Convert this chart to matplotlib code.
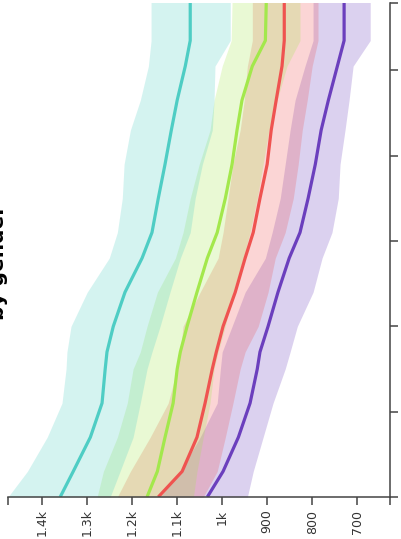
import matplotlib
matplotlib.use('Agg')
import matplotlib.pyplot as plt

# time positions (vertical axis, bottom -> top)
t = [0, 0.3, 0.7, 1.1, 1.5, 1.7, 2.0, 2.4, 2.8, 3.1, 3.5, 3.9, 4.3, 4.65, 5.05, 5.35, 5.8]

teal_mid = [1360, 1331, 1293, 1267, 1260, 1256, 1242, 1216, 1178, 1156, 1142, 1127, 1113, 1100, 1082, 1071, 1071]
teal_hi = [1476, 1433, 1389, 1356, 1347, 1345, 1336, 1300, 1251, 1233, 1222, 1218, 1204, 1182, 1164, 1158, 1158]
teal_lo = [1249, 1227, 1198, 1182, 1167, 1156, 1138, 1116, 1093, 1071, 1060, 1044, 1022, 1018, 1016, 982, 982]

green_mid = [1167, 1144, 1127, 1109, 1100, 1093, 1078, 1056, 1033, 1011, 993, 978, 967, 956, 933, 904, 902]
green_hi = [1278, 1264, 1233, 1211, 1198, 1182, 1167, 1144, 1104, 1087, 1071, 1051, 1027, 1018, 1000, 980, 978]
green_lo = [1064, 1056, 1042, 1027, 1018, 1009, 993, 976, 953, 938, 922, 909, 896, 878, 856, 827, 827]

red_mid = [1142, 1089, 1056, 1038, 1022, 1013, 998, 971, 949, 931, 916, 900, 891, 880, 867, 862, 862]
red_hi = [1233, 1204, 1160, 1120, 1100, 1093, 1087, 1049, 1009, 998, 987, 976, 960, 951, 944, 933, 933]
red_lo = [1042, 1011, 993, 976, 960, 949, 920, 898, 882, 860, 842, 831, 822, 811, 800, 787, 787]

purple_mid = [1033, 998, 964, 938, 922, 916, 898, 876, 851, 827, 809, 793, 780, 764, 744, 729, 729]
purple_hi = [1138, 1093, 1049, 1011, 1004, 1000, 978, 949, 904, 889, 871, 860, 849, 838, 816, 798, 798]
purple_lo = [944, 931, 909, 887, 860, 849, 833, 798, 778, 756, 742, 738, 727, 718, 709, 671, 671]

ticks = [1400, 1300, 1200, 1100, 1000, 900, 800, 700]
tick_labels = ['1.4k', '1.3k', '1.2k', '1.1k', '1k', '900', '800', '700']

fig = plt.figure(figsize=(4.01, 5.39), dpi=100)
ax = fig.add_axes([8 / 401, 42 / 539, 382 / 401, 494 / 539])

# drawn back to front so later bands tint earlier lines
series = [
    (purple_mid, purple_lo, purple_hi, '#6b3fbd'),
    (red_mid, red_lo, red_hi, '#ef5350'),
    (green_mid, green_lo, green_hi, '#a3e84c'),
    (teal_mid, teal_lo, teal_hi, '#4ecdc4'),
]
for mid, lo, hi, c in series:
    ax.fill_betweenx(t, lo, hi, color=c, alpha=0.24, lw=0)
    ax.plot(mid, t, color=c, lw=2.3, solid_capstyle='butt', solid_joinstyle='round')

ax.set_xlim(1476, 627)
ax.set_ylim(0, 5.79)

ax.spines['left'].set_visible(False)
ax.spines['top'].set_visible(False)
for s in ['bottom', 'right']:
    ax.spines[s].set_color('#444444')
    ax.spines[s].set_linewidth(1.1)

ax.set_xticks(ticks)
ax.set_xticklabels(tick_labels, rotation=90, fontsize=9, color='#333333')
ax.set_xticks([1476, 627], minor=True)
ax.tick_params(axis='x', which='both', direction='out', length=6, width=1.1,
               color='#444444', pad=3)

ax.yaxis.tick_right()
ax.set_yticks([0, 1, 2, 3, 4, 5, 5.79])
ax.tick_params(axis='y', direction='out', length=5.5, width=1.1,
               color='#444444', labelright=False)

fig.text(4 / 401, (539 - 205) / 539, 'by gender', rotation=90,
         rotation_mode='anchor', ha='right', va='baseline',
         fontsize=14.5, fontweight='bold', color='black')

fig.savefig('out.png', dpi=100)
